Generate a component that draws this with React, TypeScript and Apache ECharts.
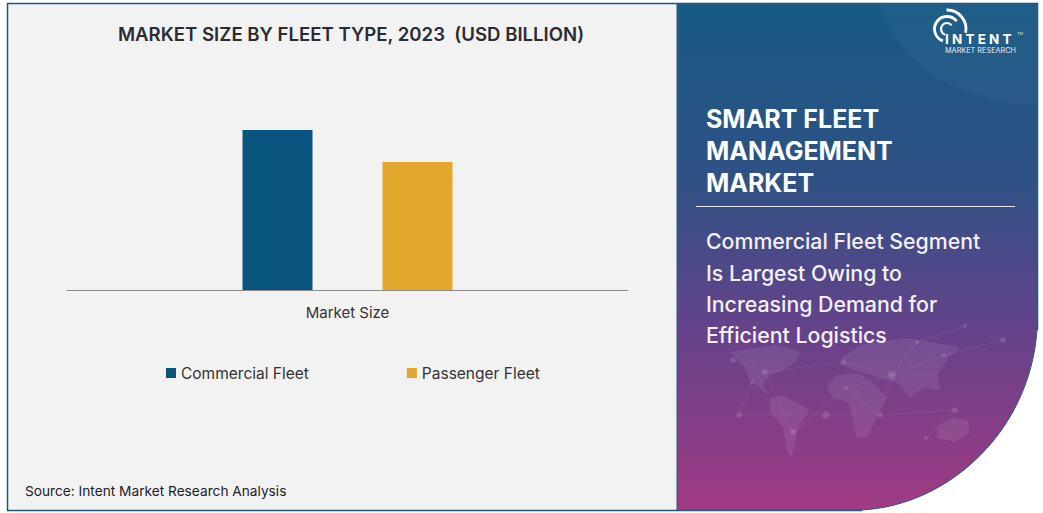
import React, { useEffect, useRef } from "react";
import * as echarts from "echarts";

const categories = ["Market Size"];
const commercialFleet = [16];
const passengerFleet = [12.8];
const titleText = "MARKET SIZE BY FLEET TYPE, 2023  (USD BILLION)";
const headline = ["SMART FLEET", "MANAGEMENT", "MARKET"];
const body = [
  "Commercial Fleet Segment",
  "Is Largest Owing to",
  "Increasing Demand for",
  "Efficient Logistics",
];
const FONT = "Inter, 'Noto Sans', sans-serif";

const PANEL = "M677 4 L1037 4 L1037 330 C1030 430 950 505 862 510 L677 510 Z";
const GLOW = "M880 4 C895 60 950 100 1037 106 L1037 4 Z";
echarts.graphic.registerShape("panelShape", echarts.graphic.extendPath(PANEL, {}) as any);
echarts.graphic.registerShape("glowShape", echarts.graphic.extendPath(GLOW, {}) as any);

const continents: number[][][] = [
  [[730,352],[753,348],[777,345],[800,352],[795,362],[783,370],[770,375],[763,385],[770,395],[760,388],[748,377],[743,365]],
  [[770,398],[783,395],[810,410],[798,427],[795,443],[792,458],[787,450],[783,427],[770,412]],
  [[827,387],[837,375],[860,373],[873,383],[887,398],[883,403],[877,417],[867,437],[857,438],[852,417],[848,402],[833,398]],
  [[843,357],[860,345],[907,338],[960,347],[947,360],[937,375],[940,390],[923,388],[910,398],[898,383],[877,377],[853,370],[842,365]],
  [[937,427],[953,418],[968,420],[970,433],[955,442],[937,438]],
];
const nodes: number[][] = [
  [733,360,3],[765,372,3],[752,382,2],[739,415,3],[793,432,3],[826,415,4],[846,388,2],[843,362,3],[892,375,4],[880,415,3],[955,410,3],[1003,340,3],[965,326,2],[917,342,2],[944,355,2],[926,438,2],
];
const links: number[][] = [[0,1],[1,2],[2,3],[3,5],[4,5],[1,7],[5,9],[7,8],[8,13],[8,14],[8,9],[9,10],[6,9],[6,8],[10,15],[14,11],[13,12],[1,4],[4,6]];

export default function App() {
  const ref = useRef<HTMLDivElement>(null);
  useEffect(() => {
    const chart = echarts.init(ref.current!, undefined, { renderer: "svg" });
    const white = "#ffffff";
    const graphic: any[] = [
      { type: "rect", silent: true, z: -10, shape: { x: 7.5, y: 3.5, width: 1030, height: 507 }, style: { fill: "#f2f2f2", stroke: "#1d5878", lineWidth: 1.5 } },
      { type: "rect", silent: true, z: -9, shape: { x: 862, y: 330, width: 181, height: 183 }, style: { fill: "#ffffff" } },
      {
        type: "panelShape", silent: true, z: -8,
        style: {
          fill: new echarts.graphic.LinearGradient(0, 0, 0, 1, [
            { offset: 0, color: "#175a85" },
            { offset: 0.35, color: "#2f5184" },
            { offset: 0.65, color: "#66428a" },
            { offset: 1, color: "#a13a84" },
          ]),
          stroke: "#2a5a85", lineWidth: 1,
        },
      },
      { type: "glowShape", silent: true, z: -7, style: { fill: "rgba(255,255,255,0.028)" } },
      ...continents.map((points) => ({ type: "polygon", silent: true, z: -6, shape: { points }, style: { fill: "rgba(255,255,255,0.08)" } })),
      ...links.map(([a, b]) => ({ type: "line", silent: true, z: -6, shape: { x1: nodes[a][0], y1: nodes[a][1], x2: nodes[b][0], y2: nodes[b][1] }, style: { stroke: "rgba(255,255,255,0.06)", lineWidth: 1 } })),
      ...nodes.map((n) => ({ type: "circle", silent: true, z: -6, shape: { cx: n[0], cy: n[1], r: n[2] }, style: { fill: "rgba(255,255,255,0.12)" } })),
      { type: "line", silent: true, shape: { x1: 696, y1: 206.5, x2: 1015, y2: 206.5 }, style: { stroke: "#e8e8ee", lineWidth: 1 } },
      ...headline.map((t, i) => ({ type: "text", x: 706, y: 119 + i * 32, style: { text: t, fill: white, font: `700 25px ${FONT}`, textVerticalAlign: "middle" } })),
      ...body.map((t, i) => ({ type: "text", x: 706, y: [241, 273, 304, 335][i], style: { text: t, fill: "#f4f0f6", font: `500 21.3px ${FONT}`, textVerticalAlign: "middle" } })),
      { type: "text", x: 25, y: 491, style: { text: "Source: Intent Market Research Analysis", fill: "#222222", font: `400 13.7px ${FONT}`, textVerticalAlign: "middle" } },
      { type: "arc", silent: true, shape: { cx: 947, cy: 29, r: 6, startAngle: 1.9, endAngle: 5.6 }, style: { stroke: white, lineWidth: 2.2, fill: "none" } },
      { type: "arc", silent: true, shape: { cx: 947, cy: 29, r: 12.5, startAngle: 1.9, endAngle: 5.6 }, style: { stroke: white, lineWidth: 2.8, fill: "none" } },
      { type: "arc", silent: true, shape: { cx: 947, cy: 29, r: 19, startAngle: -1.6, endAngle: 0.2 }, style: { stroke: white, lineWidth: 2.8, fill: "none" } },
      { type: "text", x: 945, y: 38.5, style: { text: "I N T E N T", fill: white, font: `700 13.5px ${FONT}`, textVerticalAlign: "middle" } },
      { type: "text", x: 1017, y: 33, style: { text: "TM", fill: "#dfe8ef", font: `400 4px ${FONT}`, textVerticalAlign: "middle" } },
      { type: "text", x: 945, y: 50, style: { text: "MARKET RESEARCH", fill: "#e6edf3", font: `400 7.3px ${FONT}`, textVerticalAlign: "middle" } },
    ];
    chart.setOption({
      animation: false,
      title: { text: titleText, left: 346, top: 19, textAlign: "center", textStyle: { fontFamily: FONT, fontWeight: 600, fontSize: 18.6, color: "#2b2b33" } },
      legend: {
        left: 166, top: 365, padding: 0, itemWidth: 10, itemHeight: 10, itemGap: 98, icon: "rect",
        textStyle: { fontFamily: FONT, fontSize: 15.5, color: "#333333" },
      },
      grid: { left: 67, right: 415, top: 90, height: 200 },
      xAxis: {
        type: "category", data: categories,
        axisLine: { lineStyle: { color: "#8a8a8a", width: 1 } }, axisTick: { show: false },
        axisLabel: { margin: 15, fontFamily: FONT, fontSize: 15, color: "#333333" },
      },
      yAxis: { type: "value", min: 0, max: 20, show: false, splitLine: { show: false } },
      series: [
        { name: "Commercial Fleet", type: "bar", data: commercialFleet, barWidth: 70, barGap: "100%", itemStyle: { color: "#0a5480" } },
        { name: "Passenger Fleet", type: "bar", data: passengerFleet, barWidth: 70, itemStyle: { color: "#e4a72d" } },
      ],
      graphic,
    });
    return () => chart.dispose();
  }, []);
  return <div ref={ref} style={{ position: "fixed", left: 0, top: 0, width: 1043, height: 513, background: "#ffffff" }} />;
}
